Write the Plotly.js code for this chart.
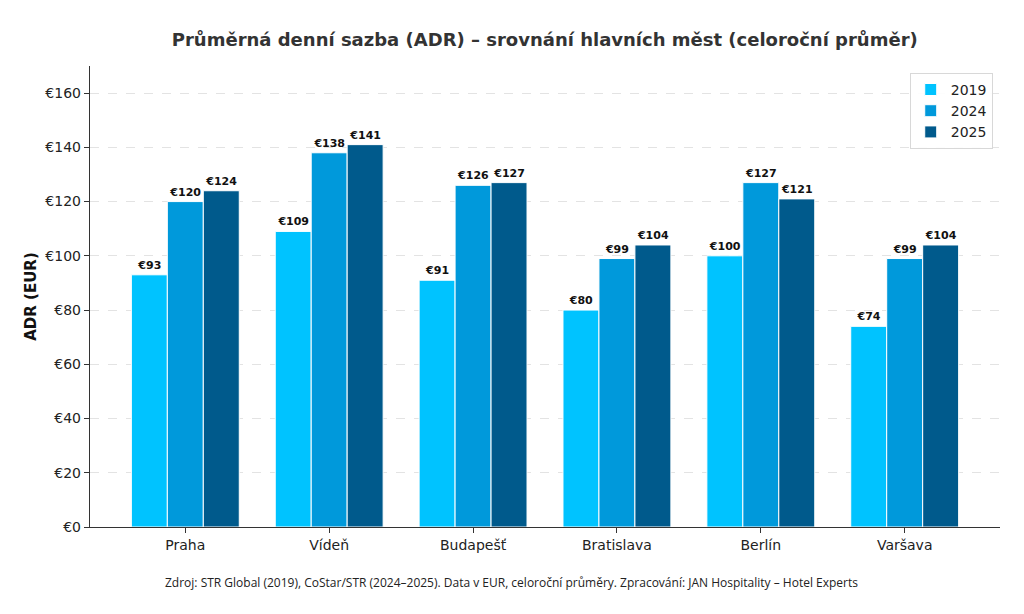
<!DOCTYPE html>
<html>
<head>
<meta charset="utf-8">
<script src="https://cdn.plot.ly/plotly-3.0.1.min.js"></script>
<style>html,body{margin:0;padding:0;background:#fff;}#chart{width:1024px;height:614px;}</style>
</head>
<body>
<div id="chart"></div>
<script>
const cities = ["Praha", "Vídeň", "Budapešť", "Bratislava", "Berlín", "Varšava"];
const adr2019 = [93, 109, 91, 80, 100, 74];
const adr2024 = [120, 138, 126, 99, 127, 99];
const adr2025 = [124, 141, 127, 104, 121, 104];
const seriesNames = ["2019", "2024", "2025"];
const yTicks = [0, 20, 40, 60, 80, 100, 120, 140, 160];
const yTickLabels = yTicks.map(v => "€" + v);

const colors = ["#00C3FF", "#0099DB", "#005A8C"];
const allSeries = [adr2019, adr2024, adr2025];
const xIdx = cities.map((c, i) => i);

const traces = allSeries.map((vals, k) => ({
  type: "bar",
  name: seriesNames[k],
  x: xIdx,
  y: vals,
  marker: {color: colors[k], line: {color: "#ffffff", width: 1}},
  text: vals.map(v => "€" + v),
  textposition: "outside",
  textfont: {family: "DejaVu Sans", size: 11, color: "#111", weight: "bold"},
  cliponaxis: false,
  hoverinfo: "skip"
}));

const layout = {
  width: 1024, height: 614,
  paper_bgcolor: "#fff", plot_bgcolor: "#fff",
  margin: {l: 90, r: 24, t: 66, b: 87},
  barmode: "group",
  bargap: 0.25,
  bargroupgap: 0,
  font: {family: "DejaVu Sans", color: "#333"},
  title: {
    text: "<b>Průměrná denní sazba (ADR) – srovnání hlavních měst (celoroční průměr)</b>",
    font: {family: "DejaVu Sans", size: 18, color: "#333"},
    x: 0.532, xanchor: "center", y: 0.935, yanchor: "middle"
  },
  xaxis: {
    range: [-0.6625, 5.6625],
    tickmode: "array", tickvals: xIdx, ticktext: cities,
    tickfont: {family: "DejaVu Sans", size: 14, color: "#222"},
    showline: true, linecolor: "#333", linewidth: 1.2,
    ticks: "outside", ticklen: 5, tickcolor: "#333",
    showgrid: false, zeroline: false, fixedrange: true
  },
  yaxis: {
    range: [0, 170],
    tickmode: "array", tickvals: yTicks, ticktext: yTickLabels,
    tickfont: {family: "DejaVu Sans", size: 14, color: "#222"},
    showline: true, linecolor: "#333", linewidth: 1.2,
    ticks: "outside", ticklen: 5, tickcolor: "#333",
    showgrid: true, gridcolor: "#e3e3e3", griddash: "dash", gridwidth: 1,
    zeroline: false,
    title: {text: "<b>ADR (EUR)</b>", font: {family: "DejaVu Sans", size: 15, color: "#111"}, standoff: 5},
    fixedrange: true
  },
  legend: {
    x: 0.992, xanchor: "right", y: 0.985, yanchor: "top",
    bgcolor: "rgba(255,255,255,0.9)", bordercolor: "#d8d8d8", borderwidth: 1,
    font: {family: "DejaVu Sans", size: 14, color: "#222"},
    tracegroupgap: 0
  },
  annotations: [{
    text: "Zdroj: STR Global (2019), CoStar/STR (2024–2025). Data v EUR, celoroční průměry. Zpracování: JAN Hospitality – Hotel Experts",
    xref: "paper", yref: "paper", x: 0.5, y: 0, yshift: -55, xanchor: "center", yanchor: "middle",
    xshift: -34,
    showarrow: false,
    font: {family: "Open Sans", size: 12, color: "#222"}
  }],
  showlegend: true
};

Plotly.newPlot("chart", traces, layout, {displayModeBar: false, staticPlot: true});
</script>
</body>
</html>
